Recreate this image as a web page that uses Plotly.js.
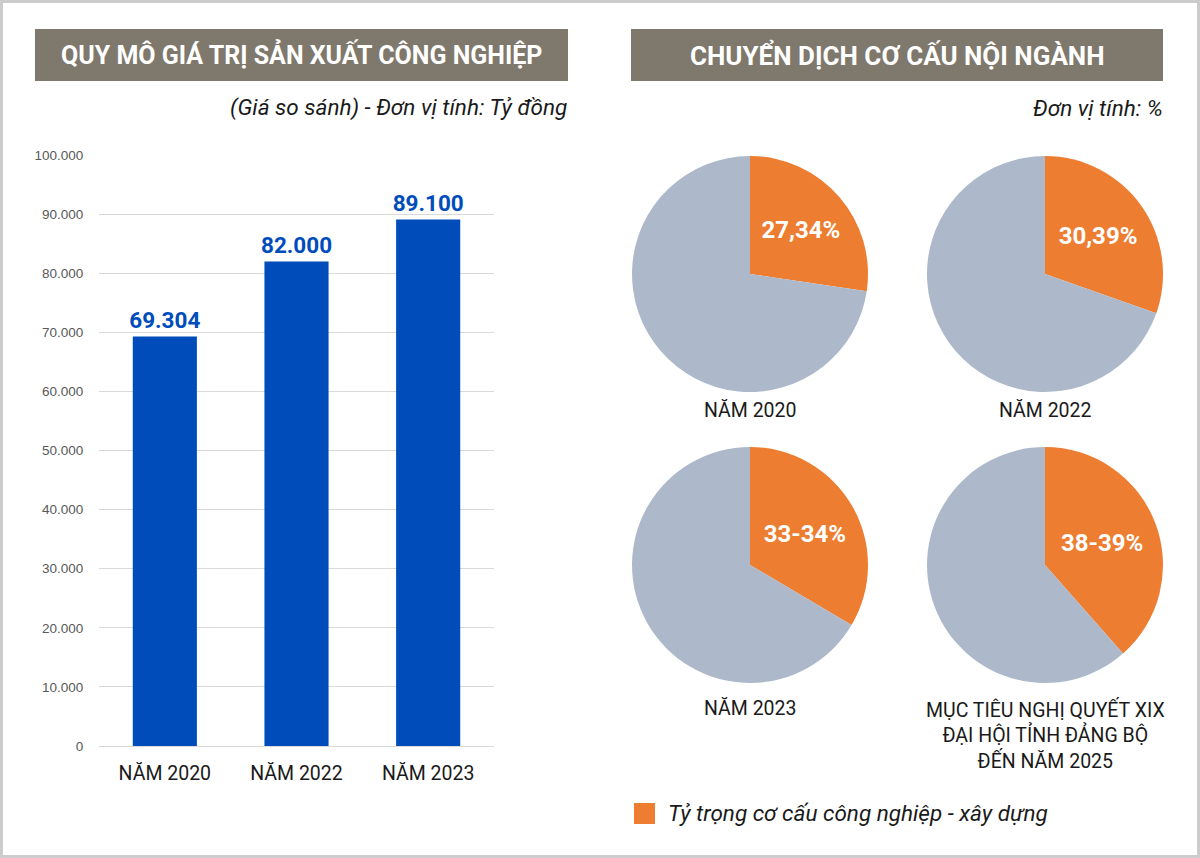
<!DOCTYPE html>
<html>
<head>
<meta charset="utf-8">
<script src="https://cdn.plot.ly/plotly-3.0.1.min.js"></script>
<style>
html,body{margin:0;padding:0;background:#fff;}
#chart{width:1200px;height:858px;}
</style>
</head>
<body>
<div id="chart"></div>
<script>
// ---- data ----
const categories = ['NĂM 2020', 'NĂM 2022', 'NĂM 2023'];
const outputValues = [69304, 82000, 89100];
const yTickValues = [0, 10000, 20000, 30000, 40000, 50000, 60000, 70000, 80000, 90000, 100000];

const pieTitles = ['NĂM 2020', 'NĂM 2022', 'NĂM 2023', 'MỤC TIÊU NGHỊ QUYẾT XIX<br>ĐẠI HỘI TỈNH ĐẢNG BỘ<br>ĐẾN NĂM 2025'];
const industryShare = [27.34, 30.39, 33.5, 38.5];
const shareLabels = ['27,34%', '30,39%', '33-34%', '38-39%'];
const sliceNames = ['Tỷ trọng cơ cấu công nghiệp - xây dựng', 'Khác'];

const leftTitle = 'QUY MÔ GIÁ TRỊ SẢN XUẤT CÔNG NGHIỆP';
const leftSub = '(Giá so sánh) - Đơn vị tính: Tỷ đồng';
const rightTitle = 'CHUYỂN DỊCH CƠ CẤU NỘI NGÀNH';
const rightSub = 'Đơn vị tính: %';
const legendText = 'Tỷ trọng cơ cấu công nghiệp - xây dựng';

// ---- style ----
const W = 1200, H = 858;
const FONT = 'Roboto, Liberation Sans, sans-serif';
const BLUE = '#004cbb', ORANGE = '#ed7d31', GREY = '#adb9ca', BANNER = '#7f786c';
const px = v => v / W;
const py = v => 1 - v / H;

const traces = [{
  type: 'bar',
  x: categories,
  y: outputValues,
  marker: {color: BLUE},
  texttemplate: '%{y:,d}',
  textposition: 'outside',
  constraintext: 'none',
  cliponaxis: false,
  textfont: {family: FONT, size: 22.5, color: BLUE, weight: 'bold'},
  xaxis: 'x', yaxis: 'y',
  hoverinfo: 'x+y'
}];

const pieDomains = [
  {x: [px(632), px(868)], y: [py(392), py(156)]},
  {x: [px(927), px(1163)], y: [py(392), py(156)]},
  {x: [px(632), px(868)], y: [py(683), py(447)]},
  {x: [px(927), px(1163)], y: [py(683), py(447)]}
];

industryShare.forEach((s, i) => {
  traces.push({
    type: 'pie',
    labels: sliceNames,
    values: [s, 100 - s],
    text: [shareLabels[i], ''],
    textinfo: 'text',
    textposition: 'inside',
    insidetextorientation: 'horizontal',
    textfont: {family: FONT, size: 24, color: '#ffffff', weight: 'bold'},
    sort: false,
    direction: 'clockwise',
    rotation: 0,
    marker: {colors: [ORANGE, GREY], line: {width: 0}},
    domain: pieDomains[i],
    showlegend: false,
    hoverinfo: 'label+percent'
  });
});

const annotations = [
  {text: leftTitle, x: px(301.5), y: py(55), xref: 'paper', yref: 'paper', showarrow: false,
   font: {family: FONT, size: 25, color: '#ffffff', weight: 'bold'}, xanchor: 'center', yanchor: 'middle'},
  {text: rightTitle, x: px(897), y: py(55), xref: 'paper', yref: 'paper', showarrow: false,
   font: {family: FONT, size: 26, color: '#ffffff', weight: 'bold'}, xanchor: 'center', yanchor: 'middle'},
  {text: '<i>' + leftSub + '</i>', x: px(569), y: py(108), xref: 'paper', yref: 'paper', showarrow: false,
   font: {family: FONT, size: 22.5, color: '#1a1a1a'}, xanchor: 'right', yanchor: 'middle'},
  {text: '<i>' + rightSub + '</i>', x: px(1165), y: py(108), xref: 'paper', yref: 'paper', showarrow: false,
   font: {family: FONT, size: 22.5, color: '#1a1a1a'}, xanchor: 'right', yanchor: 'middle'},
  {text: '<i>' + legendText + '</i>', x: px(666), y: py(813), xref: 'paper', yref: 'paper', showarrow: false,
   font: {family: FONT, size: 22.5, color: '#1a1a1a'}, xanchor: 'left', yanchor: 'middle'}
];

const titleCenters = [[750, 411], [1045, 411], [750, 708], [1045, 695]];
pieTitles.forEach((t, i) => {
  annotations.push({
    text: t, x: px(titleCenters[i][0]), y: py(titleCenters[i][1]), xref: 'paper', yref: 'paper',
    showarrow: false, font: {family: FONT, size: 19.5, color: '#1a1a1a'},
    xanchor: 'center', yanchor: i === 3 ? 'top' : 'middle', align: 'center'
  });
});

const shapes = [
  {type: 'rect', xref: 'paper', yref: 'paper', x0: px(35), x1: px(568), y0: py(81), y1: py(29),
   fillcolor: BANNER, line: {width: 0}, layer: 'below'},
  {type: 'rect', xref: 'paper', yref: 'paper', x0: px(631), x1: px(1163), y0: py(81), y1: py(29),
   fillcolor: BANNER, line: {width: 0}, layer: 'below'},
  {type: 'rect', xref: 'paper', yref: 'paper', x0: px(634), x1: px(655), y0: py(824), y1: py(803),
   fillcolor: ORANGE, line: {width: 0}},
  {type: 'rect', xref: 'paper', yref: 'paper', x0: 0, x1: 1, y0: 0, y1: 1,
   fillcolor: 'rgba(0,0,0,0)', line: {width: 6, color: '#cccccc'}}
];

const layout = {
  width: W, height: H,
  margin: {l: 0, r: 0, t: 0, b: 0},
  paper_bgcolor: '#ffffff', plot_bgcolor: '#ffffff',
  separators: ',.',
  showlegend: false,
  bargap: 0.513,
  xaxis: {
    domain: [px(99), px(494)],
    range: [-0.5, 2.5],
    type: 'category',
    showgrid: false, zeroline: false, showline: false,
    ticks: 'outside', ticklen: 10, tickcolor: 'rgba(0,0,0,0)',
    tickfont: {family: FONT, size: 19.5, color: '#1a1a1a'},
    fixedrange: true
  },
  yaxis: {
    domain: [py(746), py(155)],
    range: [0, 100000],
    tickvals: yTickValues,
    tickformat: ',d',
    showgrid: true, gridcolor: '#d9d9d9', gridwidth: 1,
    zeroline: true, zerolinecolor: '#d9d9d9', zerolinewidth: 1,
    showline: false,
    ticks: 'outside', ticklen: 12, tickcolor: 'rgba(0,0,0,0)',
    tickfont: {family: 'Liberation Sans, Arial, sans-serif', size: 13.5, color: '#595959'},
    fixedrange: true
  },
  annotations: annotations,
  shapes: shapes
};

Plotly.newPlot('chart', traces, layout, {displayModeBar: false, staticPlot: true});
</script>
</body>
</html>
